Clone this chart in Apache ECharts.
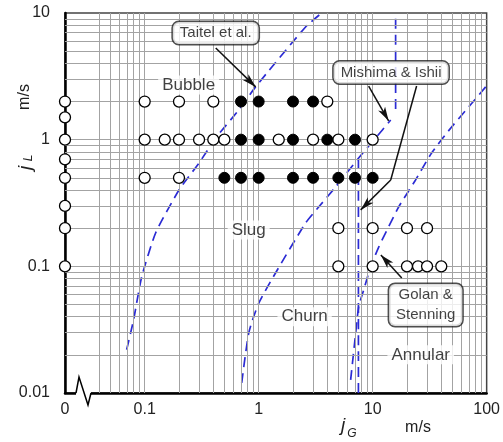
<!DOCTYPE html>
<html>
<head>
<meta charset="utf-8">
<script src="https://cdn.jsdelivr.net/npm/echarts@6/dist/echarts.min.js"></script>
<style>
  html,body{margin:0;padding:0;background:#fff}
  #chart{width:503px;height:442px}
</style>
</head>
<body>
<div id="chart"></div>
<script>
  // jG = 0 sits on the broken left end of the log axis
  var ZERO_X = 0.02;

  // tested points at jG = 0
  var zeroJL = [2, 1.5, 1, 0.7, 0.5, 0.3, 0.2, 0.1];

  // [jG, jL] open = not churn / filled = churn observed
  var openPts = [
    [0.1, 2], [0.2, 2], [0.4, 2], [4, 2],
    [0.1, 1], [0.15, 1], [0.2, 1], [0.3, 1], [0.4, 1], [0.5, 1], [1.5, 1], [3, 1], [5, 1], [10, 1],
    [0.1, 0.5], [0.2, 0.5],
    [5, 0.2], [10, 0.2], [20, 0.2], [30, 0.2],
    [5, 0.1], [10, 0.1], [20, 0.1], [25, 0.1], [30, 0.1], [40, 0.1]
  ];
  var filledPts = [
    [0.7, 2], [1, 2], [2, 2], [3, 2],
    [0.7, 1], [1, 1], [2, 1], [4, 1], [7, 1],
    [0.5, 0.5], [0.7, 0.5], [1, 0.5], [2, 0.5], [3, 0.5], [5, 0.5], [7, 0.5], [10, 0.5]
  ];

  // transition boundaries
  var taitelBS = [[0.0695, 0.022], [0.080, 0.038], [0.094, 0.082], [0.125, 0.184], [0.20, 0.40],
    [0.30, 0.655], [0.42, 1.03], [0.67, 1.72], [0.94, 2.61], [2.58, 7.76], [3.57, 10]];
  var mishimaSC = [[0.71, 0.012], [0.82, 0.030], [1.0, 0.051], [1.41, 0.089], [2.58, 0.22],
    [3.36, 0.294], [4.73, 0.423], [5.91, 0.546], [8.34, 0.80], [10.6, 1.03], [14.4, 1.43]];
  var mishimaTop = [[15.9, 1.75], [15.9, 10]];
  var mishimaCA = [[7.5, 0.01], [7.5, 0.69]];
  var golan = [[6.41, 0.0127], [7.10, 0.0298], [7.54, 0.0478], [8.34, 0.065], [9.6, 0.099],
    [11.3, 0.142], [13.8, 0.205], [16.9, 0.294], [23.8, 0.481], [32.9, 0.785], [49.3, 1.26],
    [69.5, 1.81], [98, 2.61]];

  // regime names
  var regions = [
    {name: 'Bubble', value: [0.243, 2.70]},
    {name: 'Slug', value: [0.817, 0.194]},
    {name: 'Churn', value: [2.53, 0.040]},
    {name: 'Annular', value: [26.4, 0.020]}
  ];
  // callouts and their arrows
  var callouts = [
    {name: 'Taitel et al.', value: [0.42, 6.95]},
    {name: 'Mishima & Ishii', value: [14.5, 3.39]},
    {name: 'Golan &\nStenning', value: [29.2, 0.0496]}
  ];
  var arrows = [
    [[0.42, 5.30], [0.941, 2.61]],
    [[9.22, 2.65], [13.8, 1.41]],
    [[14.4, 0.481], [7.85, 0.279]],
    [[18.0, 0.081], [11.8, 0.123]]
  ];
  var arrowBends = [
    [[24.3, 2.65], [14.4, 0.481]]
  ];

  // grid lines 2..9 per decade
  var gridX = [0.04, 0.05, 0.06, 0.07, 0.08, 0.09];
  var gridY = [];
  [0.1, 1, 10].forEach(function (d) {
    for (var k = 1; k < 10; k++) gridX.push(+(d * k).toPrecision(3));
  });
  [0.01, 0.1, 1].forEach(function (d) {
    for (var k = 2; k < 10; k++) gridY.push(+(d * k).toPrecision(3));
  });
  gridY.push(0.1, 1);

  var FONT = 'Liberation Sans, Arial, sans-serif';
  var blue = '#2b2bd4';

  var chart = echarts.init(document.getElementById('chart'));

  var dashed = function (name, data) {
    return {
      name: name, type: 'line', data: data, showSymbol: false, symbol: 'none',
      smooth: 0.2, z: 3, silent: true,
      lineStyle: {color: blue, width: 1.7, type: [10, 6]}
    };
  };

  var zeroPts = zeroJL.map(function (v) { return [ZERO_X, v]; });

  var gridMarks = gridX.map(function (v) { return {xAxis: v}; })
    .concat(gridY.map(function (v) { return {yAxis: v}; }));

  var arrowMarks = arrows.map(function (a) {
    return [{coord: a[0], symbol: 'none'}, {coord: a[1], symbol: 'arrow'}];
  }).concat(arrowBends.map(function (a) {
    return [{coord: a[0], symbol: 'none'}, {coord: a[1], symbol: 'none'}];
  }));

  var option = {
    animation: false,
    backgroundColor: '#fff',
    grid: {left: 65, right: 15, top: 13, bottom: 49, show: true, borderColor: '#444', borderWidth: 1.5},
    xAxis: {
      type: 'log', min: ZERO_X, max: 100,
      axisLine: {onZero: false, lineStyle: {color: '#000', width: 2.5}},
      axisTick: {show: false},
      splitLine: {show: false},
      axisLabel: {
        showMinLabel: true, margin: 9, color: '#222', fontSize: 16, fontFamily: FONT,
        formatter: function (v) { return v < 0.05 ? '0' : String(+v.toPrecision(3)); }
      }
    },
    yAxis: {
      type: 'log', min: 0.01, max: 10,
      axisLine: {onZero: false, lineStyle: {color: '#000', width: 2.5}},
      axisTick: {show: false},
      splitLine: {show: false},
      axisLabel: {
        margin: 15, color: '#222', fontSize: 16, fontFamily: FONT,
        formatter: function (v) { return String(+v.toPrecision(3)); }
      }
    },
    series: [
      {
        name: 'grid', type: 'line', data: [], z: 1, silent: true,
        markLine: {
          silent: true, symbol: ['none', 'none'], label: {show: false},
          lineStyle: {color: '#a3a3a3', width: 1, type: 'solid'},
          emphasis: {disabled: true},
          data: gridMarks
        }
      },
      dashed('Taitel', taitelBS),
      dashed('Mishima', mishimaSC),
      dashed('MishimaTop', mishimaTop),
      dashed('MishimaCA', mishimaCA),
      dashed('Golan', golan),
      {
        name: 'open', type: 'scatter', data: openPts.concat(zeroPts), clip: false, z: 5,
        symbol: 'circle', symbolSize: 11,
        itemStyle: {color: '#fff', borderColor: '#000', borderWidth: 1.3, opacity: 1}
      },
      {
        name: 'filled', type: 'scatter', data: filledPts, clip: false, z: 5,
        symbol: 'circle', symbolSize: 11,
        itemStyle: {color: '#000', borderColor: '#000', borderWidth: 1, opacity: 1}
      },
      {
        name: 'arrows', type: 'line', data: [], z: 6, silent: true,
        markLine: {
          silent: true, symbol: ['none', 'arrow'], symbolSize: [6, 14], label: {show: false},
          lineStyle: {color: '#111', width: 1.5, type: 'solid'},
          emphasis: {disabled: true},
          data: arrowMarks
        }
      },
      {
        name: 'regions', type: 'scatter', data: regions, z: 7, symbolSize: 1, clip: false,
        itemStyle: {color: 'rgba(0,0,0,0)'},
        label: {
          show: true, position: 'inside', formatter: '{b}', color: '#111',
          fontSize: 17, fontFamily: FONT, backgroundColor: '#fff', padding: [1, 4]
        }
      },
      {
        name: 'callouts', type: 'scatter', data: callouts, z: 8, symbolSize: 1, clip: false,
        itemStyle: {color: 'rgba(0,0,0,0)'},
        label: {
          show: true, position: 'inside', formatter: '{b}', color: '#111',
          fontSize: 15, lineHeight: 20, fontFamily: FONT, align: 'center',
          backgroundColor: '#fff', borderColor: '#222', borderWidth: 1.5, borderRadius: 6,
          padding: [1, 7]
        }
      }
    ],
    graphic: [
      // axis break on jG
      {type: 'rect', shape: {x: 76, y: 390, width: 15, height: 6}, style: {fill: '#fff'}, z: 100},
      {type: 'polyline', shape: {points: [[76, 393], [79, 377], [88, 405], [91, 393]]},
        style: {stroke: '#000', lineWidth: 1.5, fill: null}, z: 101},
      {type: 'text', x: 343, y: 426, z: 100,
        style: {text: 'j', font: 'italic 19px ' + FONT, fill: '#222', align: 'center', verticalAlign: 'middle'}},
      {type: 'text', x: 352, y: 434, z: 100,
        style: {text: 'G', font: 'italic 12px ' + FONT, fill: '#222', align: 'center', verticalAlign: 'middle'}},
      {type: 'text', x: 418, y: 428, z: 100,
        style: {text: 'm/s', font: '16px ' + FONT, fill: '#222', align: 'center', verticalAlign: 'middle'}},
      {type: 'text', x: 26, y: 168, rotation: Math.PI / 2, z: 100,
        style: {text: 'j', font: 'italic 19px ' + FONT, fill: '#222', align: 'center', verticalAlign: 'middle'}},
      {type: 'text', x: 29, y: 158, rotation: Math.PI / 2, z: 100,
        style: {text: 'L', font: 'italic 12px ' + FONT, fill: '#222', align: 'center', verticalAlign: 'middle'}},
      {type: 'text', x: 25, y: 97, rotation: Math.PI / 2, z: 100,
        style: {text: 'm/s', font: '16px ' + FONT, fill: '#222', align: 'center', verticalAlign: 'middle'}}
    ]
  };

  chart.setOption(option);
</script>
</body>
</html>
